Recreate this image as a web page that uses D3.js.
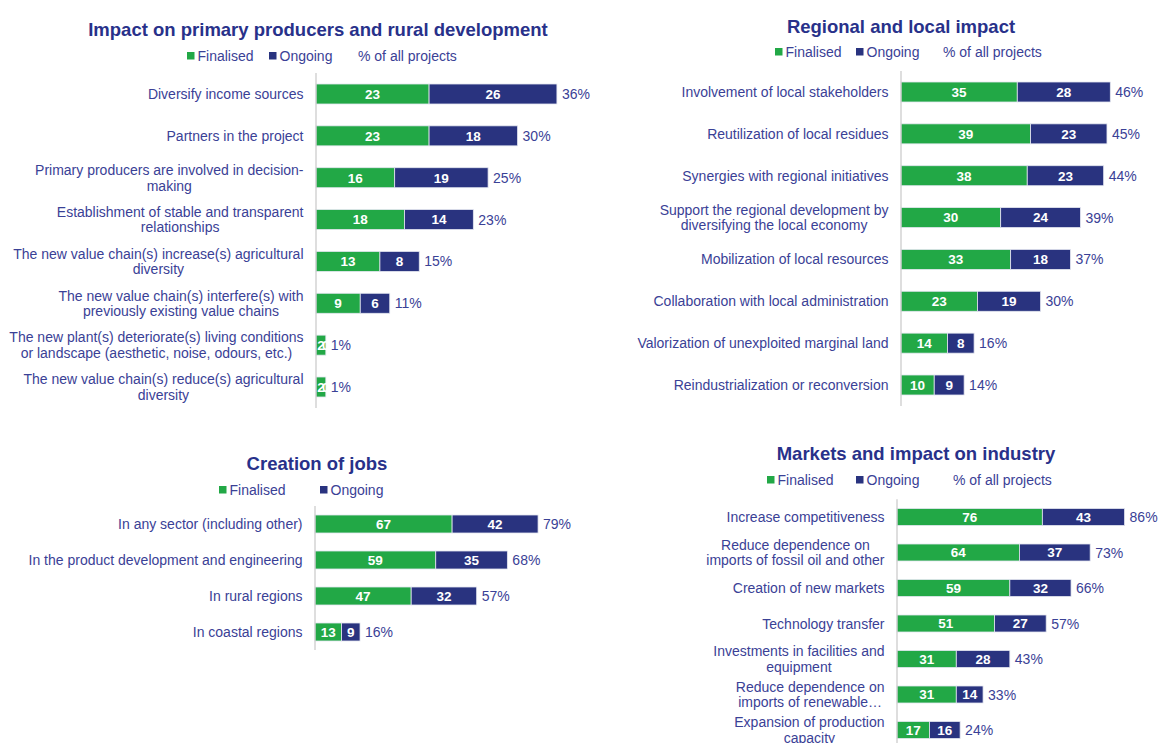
<!DOCTYPE html>
<html>
<head>
<meta charset="utf-8">
<script src="https://cdn.jsdelivr.net/npm/d3@7"></script>
<style>
  html, body { margin: 0; padding: 0; background: #ffffff; }
  svg { display: block; font-family: "Liberation Sans", Arial, sans-serif; }
</style>
</head>
<body>
<svg id="chart" width="1159" height="743"></svg>
<script>
// ---- Impact on primary producers and rural development ----
const primaryCategories = [
  "Diversify income sources",
  "Partners in the project",
  "Primary producers are involved in decision-\nmaking",
  "Establishment of stable and transparent\nrelationships",
  "The new value chain(s) increase(s) agricultural\ndiversity",
  "The new value chain(s) interfere(s) with\npreviously existing value chains",
  "The new plant(s) deteriorate(s) living conditions\nor landscape (aesthetic, noise, odours, etc.)",
  "The new value chain(s) reduce(s) agricultural\ndiversity"
];
const primaryFinalised = [23, 23, 16, 18, 13, 9, 2, 2];
const primaryOngoing   = [26, 18, 19, 14, 8, 6, 0, 0];
const primaryShare     = [36, 30, 25, 23, 15, 11, 1, 1];

// ---- Regional and local impact ----
const regionalCategories = [
  "Involvement of local stakeholders",
  "Reutilization of local residues",
  "Synergies with regional initiatives",
  "Support the regional development by\ndiversifying the local economy",
  "Mobilization of local resources",
  "Collaboration with local administration",
  "Valorization of unexploited marginal land",
  "Reindustrialization or reconversion"
];
const regionalFinalised = [35, 39, 38, 30, 33, 23, 14, 10];
const regionalOngoing   = [28, 23, 23, 24, 18, 19, 8, 9];
const regionalShare     = [46, 45, 44, 39, 37, 30, 16, 14];

// ---- Creation of jobs ----
const jobsCategories = [
  "In any sector (including other)",
  "In the product development and engineering",
  "In rural regions",
  "In coastal regions"
];
const jobsFinalised = [67, 59, 47, 13];
const jobsOngoing   = [42, 35, 32, 9];
const jobsShare     = [79, 68, 57, 16];

// ---- Markets and impact on industry ----
const marketsCategories = [
  "Increase competitiveness",
  "Reduce dependence on\nimports of fossil oil and other",
  "Creation of new markets",
  "Technology transfer",
  "Investments in facilities and\nequipment",
  "Reduce dependence on\nimports of renewable…",
  "Expansion of production\ncapacity"
];
const marketsFinalised = [76, 64, 59, 51, 31, 31, 17];
const marketsOngoing   = [43, 37, 32, 27, 28, 14, 16];
const marketsShare     = [86, 73, 66, 57, 43, 33, 24];

const seriesNames = ["Finalised", "Ongoing"];
const shareLegend = "% of all projects";

// ---- styling ----
const GREEN = "#22a846";
const NAVY = "#29337f";
const TEXT = "#3a4196";
const TITLE = "#28318a";
const AXIS = "#c8c8c8";

const svg = d3.select("#chart");

// Panel geometry: axis position, value scale extent, row band, title and legend placement
const panels = [
  {
    title: "Impact on primary producers and rural development",
    categories: primaryCategories, fin: primaryFinalised, ong: primaryOngoing, share: primaryShare,
    axisX: 316, domainMax: 60, rangeW: 295, y0: 73.07, y1: 407.93, barH: 20,
    titleX: 318, titleY: 36,
    legendY: 56, legendX: [187, 269, 358], showShare: true
  },
  {
    title: "Regional and local impact",
    categories: regionalCategories, fin: regionalFinalised, ong: regionalOngoing, share: regionalShare,
    axisX: 901, domainMax: 90, rangeW: 299, y0: 71.07, y1: 405.93, barH: 20,
    titleX: 901, titleY: 33,
    legendY: 52, legendX: [775, 856, 943], showShare: true
  },
  {
    title: "Creation of jobs",
    categories: jobsCategories, fin: jobsFinalised, ong: jobsOngoing, share: jobsShare,
    axisX: 315, domainMax: 140, rangeW: 286.5, y0: 506, y1: 650, barH: 18,
    titleX: 317, titleY: 470,
    legendY: 490, legendX: [219, 320], showShare: false
  },
  {
    title: "Markets and impact on industry",
    categories: marketsCategories, fin: marketsFinalised, ong: marketsOngoing, share: marketsShare,
    axisX: 897, domainMax: 160, rangeW: 306, y0: 499.25, y1: 747.75, barH: 17,
    titleX: 916, titleY: 460,
    legendY: 480, legendX: [767, 856, 953], showShare: true
  }
];

panels.forEach(drawPanel);

function drawPanel(p) {
  const g = svg.append("g");

  // Title
  g.append("text")
    .attr("x", p.titleX).attr("y", p.titleY)
    .attr("text-anchor", "middle")
    .attr("font-size", 18.5).attr("font-weight", "bold")
    .attr("fill", TITLE)
    .text(p.title);

  // Legend
  const legendItems = [
    { label: seriesNames[0], color: GREEN },
    { label: seriesNames[1], color: NAVY }
  ];
  if (p.showShare) legendItems.push({ label: shareLegend, color: null });
  legendItems.forEach((it, i) => {
    const lx = p.legendX[i];
    if (it.color) {
      g.append("rect")
        .attr("x", lx).attr("y", p.legendY - 4)
        .attr("width", 7.5).attr("height", 7.5)
        .attr("fill", it.color);
    }
    g.append("text")
      .attr("x", it.color ? lx + 10.5 : lx).attr("y", p.legendY + 4.5)
      .attr("font-size", 14).attr("fill", TEXT)
      .text(it.label);
  });

  // Scales
  const x = d3.scaleLinear().domain([0, p.domainMax]).range([p.axisX, p.axisX + p.rangeW]);
  const step = (p.y1 - p.y0) / p.categories.length;
  const padIn = 1 - p.barH / step;
  const y = d3.scaleBand()
    .domain(p.categories)
    .range([p.y0, p.y1])
    .paddingInner(padIn)
    .paddingOuter(padIn / 2);

  const rows = p.categories.map((c, i) => ({
    cat: c, fin: p.fin[i], ong: p.ong[i], share: p.share[i]
  }));

  // Stacked segments
  const stack = d3.stack().keys(["fin", "ong"]);
  const layers = stack(rows);
  const colors = { fin: GREEN, ong: NAVY };

  layers.forEach(layer => {
    g.append("g").selectAll("rect")
      .data(layer)
      .join("rect")
      .attr("x", d => x(d[0]))
      .attr("y", d => y(d.data.cat))
      .attr("width", d => x(d[1]) - x(d[0]))
      .attr("height", y.bandwidth())
      .attr("fill", colors[layer.key])
      .attr("stroke", "#e4e7f0")
      .attr("stroke-width", 0.8);
  });

  // Segment value labels
  layers.forEach(layer => {
    g.append("g").selectAll("text")
      .data(layer)
      .join("text")
      .attr("x", d => (x(d[0]) + x(d[1])) / 2)
      .attr("y", d => y(d.data.cat) + y.bandwidth() / 2)
      .attr("dy", "0.36em")
      .attr("text-anchor", "middle")
      .attr("font-size", 13.5).attr("font-weight", "bold")
      .attr("fill", "#ffffff")
      .text(d => d[1] - d[0]);
  });

  // Share labels at bar end
  g.append("g").selectAll("text")
    .data(rows)
    .join("text")
    .attr("x", d => x(d.fin + d.ong) + 5)
    .attr("y", d => y(d.cat) + y.bandwidth() / 2)
    .attr("dy", "0.36em")
    .attr("font-size", 14).attr("fill", TEXT)
    .text(d => d.share + "%");

  // Vertical axis line
  g.append("line")
    .attr("x1", p.axisX).attr("x2", p.axisX)
    .attr("y1", p.y0).attr("y2", p.y1)
    .attr("stroke", AXIS).attr("stroke-width", 1.2);

  // Category labels: block right-aligned to the axis, lines centred within the block
  const labelRight = p.axisX - 12.5;
  const lineH = 15.5;
  rows.forEach(d => {
    const lines = d.cat.split("\n");
    const cy = y(d.cat) + y.bandwidth() / 2;
    const t = g.append("text")
      .attr("font-size", 14).attr("fill", TEXT)
      .attr("text-anchor", "middle");
    const spans = lines.map((ln, i) =>
      t.append("tspan")
        .attr("y", cy + (i - (lines.length - 1) / 2) * lineH)
        .attr("dy", "0.36em")
        .text(ln)
    );
    const widths = spans.map(s => s.node().getComputedTextLength());
    const blockW = d3.max(widths);
    spans.forEach(s => s.attr("x", labelRight - blockW / 2));
  });
}
</script>
</body>
</html>
